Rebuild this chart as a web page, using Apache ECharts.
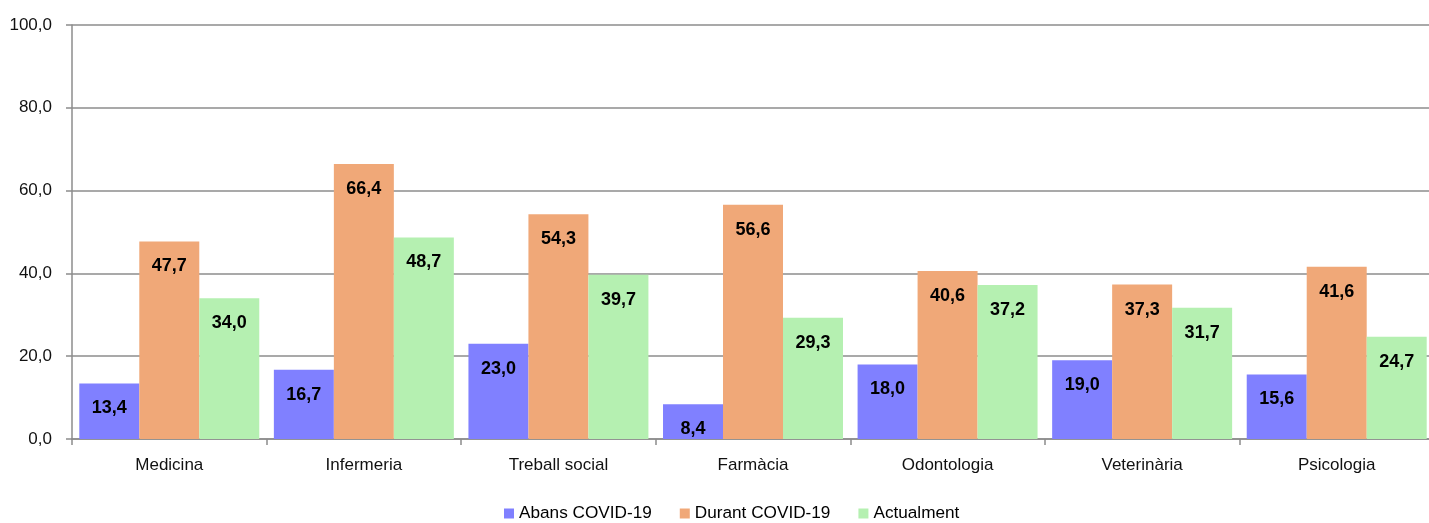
<!DOCTYPE html>
<html><head><meta charset="utf-8">
<script src="https://cdn.jsdelivr.net/npm/echarts@6/dist/echarts.min.js"></script>
<style>html,body{margin:0;padding:0;background:#fff}#c{width:1429px;height:523px}</style>
</head><body><div id="c"></div>
<script>
const categories = ['Medicina','Infermeria','Treball social','Farmàcia','Odontologia','Veterinària','Psicologia'];
const seriesNames = ['Abans COVID-19','Durant COVID-19','Actualment'];
const abans = [13.4, 16.7, 23.0, 8.4, 18.0, 19.0, 15.6];
const durant = [47.7, 66.4, 54.3, 56.6, 40.6, 37.3, 41.6];
const actualment = [34.0, 48.7, 39.7, 29.3, 37.2, 31.7, 24.7];
const colors = ['#8080ff', '#f0a878', '#b5f0b1'];

const fmt = v => Number(v).toFixed(1).replace('.', ',');
const chart = echarts.init(document.getElementById('c'), null, {renderer: 'canvas'});
const mk = (name, data, color) => ({
  name, type: 'bar', data, barGap: '0%', barCategoryGap: '7.5%',
  itemStyle: {color},
  label: {show: true, position: 'insideTop', distance: 16, formatter: p => fmt(p.value),
    fontFamily: 'Liberation Sans', fontWeight: 'bold', fontSize: 18, color: '#000'}
});
chart.setOption({
  animation: false,
  textStyle: {fontFamily: 'Liberation Sans, Arial, sans-serif'},
  grid: {left: 72, top: 25, width: 1362, height: 414, outerBoundsMode: 'none', containLabel: false},
  legend: {left: 499, top: 500, icon: 'rect', itemWidth: 10, itemHeight: 10, itemGap: 28,
    textStyle: {fontSize: 17.2, color: '#000', fontFamily: 'Liberation Sans'}, data: seriesNames},
  xAxis: {type: 'category', data: categories,
    axisLine: {lineStyle: {color: '#8c8c8c', width: 1.5}},
    axisTick: {show: true, length: 6, lineStyle: {color: '#8c8c8c', width: 1.5}},
    axisLabel: {fontSize: 17, color: '#111', margin: 18, fontFamily: 'Liberation Sans'}},
  yAxis: {type: 'value', min: 0, max: 100, interval: 20,
    axisLine: {show: true, lineStyle: {color: '#8c8c8c', width: 1.5}},
    axisTick: {show: true, length: 6, lineStyle: {color: '#8c8c8c', width: 1.5}},
    splitLine: {lineStyle: {color: '#8c8c8c', width: 1.5}},
    axisLabel: {fontSize: 17, color: '#111', margin: 20, formatter: fmt, fontFamily: 'Liberation Sans'}},
  series: [mk(seriesNames[0], abans, colors[0]), mk(seriesNames[1], durant, colors[1]), mk(seriesNames[2], actualment, colors[2])]
});
</script></body></html>
